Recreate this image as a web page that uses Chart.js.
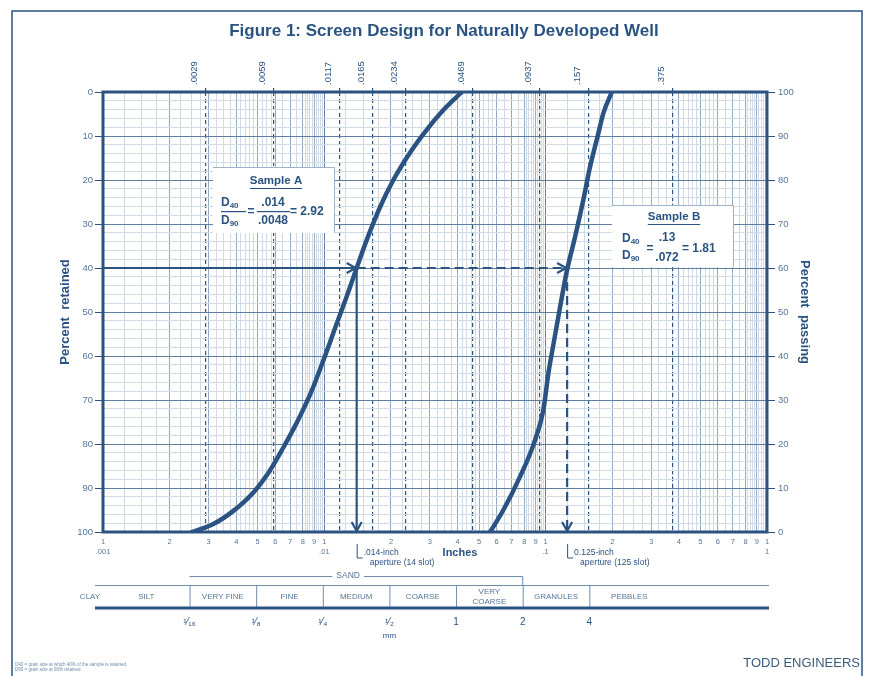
<!DOCTYPE html>
<html>
<head>
<meta charset="utf-8">
<title>Screen Design for Naturally Developed Well</title>
<script src="https://cdn.jsdelivr.net/npm/chart.js@4.4.1/dist/chart.umd.min.js"></script>
<style>
  html, body { margin: 0; padding: 0; background: #fff; }
  #wrap { width: 873px; height: 676px; position: relative; }
</style>
</head>
<body>
<div id="wrap"><canvas id="gradChart"></canvas></div>
<script>
// grain size (inches) against percent retained
var sizeA = [0.00252, 0.00315, 0.00388, 0.00478, 0.00568, 0.00653, 0.0075, 0.00862, 0.0099, 0.01138, 0.01262, 0.0140, 0.01555, 0.0178, 0.0205, 0.0243, 0.0290, 0.0345, 0.0418];
var retainedA = [100, 98.2, 95.2, 91.0, 86.0, 80.8, 75.2, 68.8, 61.0, 52.6, 46.5, 40, 33.6, 26.3, 20, 13.9, 8.6, 4.1, 0];
var sizeB = [0.0561, 0.0644, 0.0766, 0.0880, 0.0976, 0.1029, 0.1066, 0.1141, 0.1245, 0.1358, 0.1480, 0.1587, 0.1730, 0.1823, 0.1990];
var retainedB = [100, 95, 87.4, 80.2, 72.3, 63.9, 59.4, 51.1, 40.8, 32.9, 24.5, 17, 9.4, 4.8, 0];

// the D40 picks (inches) and the percent they are read at
var d40A = 0.014;
var d40B = 0.125;
var pickRetained = 40;

// sieve openings printed along the top (inches)
var topSizes = [0.0029, 0.0059, 0.0117, 0.0165, 0.0234, 0.0469, 0.0937, 0.157, 0.375];
var topLabels = ['.0029', '.0059', '.0117', '.0165', '.0234', '.0469', '.0937', '.157', '.375'];

// log grid paper: lines inside each decade, and the decade names
var gridMantissas = [1, 1.25, 1.5, 1.75, 2, 2.25, 2.5, 2.75, 3, 3.25, 3.5, 3.75, 4, 4.2, 4.4, 4.6, 4.8, 5, 5.25, 5.5, 5.75, 6, 6.5, 7, 7.5, 8, 8.2, 8.4, 8.6, 8.8, 9, 9.2, 9.4, 9.6, 9.8];
var decadeLabels = ['.001', '.01', '.1', '1'];

// percent ticks
var percentMajor = [0, 10, 20, 30, 40, 50, 60, 70, 80, 90, 100];
var percentMinorStep = 2;

// wentworth classes and their limits in mm
var classNames = ['CLAY', 'SILT', 'VERY FINE', 'FINE', 'MEDIUM', 'COARSE', 'VERY COARSE', 'GRANULES', 'PEBBLES'];
var classLimitsMm = [1/16, 1/8, 1/4, 1/2, 1, 2, 4];
var classLimitLabels = ['\u00b9\u2044\u2081\u2086', '\u00b9\u2044\u2088', '\u00b9\u2044\u2084', '\u00b9\u2044\u2082', '1', '2', '4'];

var main = '#2b5382';
var tickText = '#56769a';
var gridDecade = '#5f7fa2';
var gridMajor = '#93aac2';
var gridMinor = '#d0dbe6';
var fontFam = "'Liberation Sans', Arial, sans-serif";

// build the bottom axis ticks
var xTicks = [], xTickLabels = [], xTickKind = [];
for (var d = 0; d < 3; d++) {
  for (var j = 0; j < gridMantissas.length; j++) {
    var m = gridMantissas[j];
    xTicks.push(Number((m * Math.pow(10, d - 3)).toPrecision(6)));
    if (m === 1) { xTickLabels.push(['1', decadeLabels[d]]); xTickKind.push('decade'); }
    else if (m % 1 === 0) { xTickLabels.push(String(m)); xTickKind.push('major'); }
    else { xTickLabels.push(''); xTickKind.push('minor'); }
  }
}
xTicks.push(1); xTickLabels.push(['1', decadeLabels[3]]); xTickKind.push('decade');

var yTicks = [];
for (var p = 0; p <= 100; p += percentMinorStep) yTicks.push(p);

function pts(xs, ys) {
  return xs.map(function(x, i) { return {x: x, y: ys[i]}; });
}

function dLabel(ctx, x, y, sub) {
  ctx.font = 'bold 12px ' + fontFam;
  ctx.textAlign = 'left';
  ctx.textBaseline = 'middle';
  ctx.fillText('D', x, y);
  var w = ctx.measureText('D').width;
  ctx.font = 'bold 8px ' + fontFam;
  ctx.fillText(sub, x + w, y + 3);
}

function sampleBox(ctx, x, y, w, h) {
  ctx.fillStyle = '#fff';
  ctx.fillRect(x, y, w, h);
  ctx.strokeStyle = '#9fb3c8';
  ctx.lineWidth = 1;
  ctx.beginPath();
  ctx.moveTo(x, y + 0.5); ctx.lineTo(x + w + 0.5, y + 0.5); ctx.lineTo(x + w + 0.5, y + h);
  ctx.stroke();
}

function underlined(ctx, txt, cx, y) {
  ctx.font = 'bold 11.5px ' + fontFam;
  ctx.textAlign = 'center';
  ctx.textBaseline = 'middle';
  ctx.fillText(txt, cx, y);
  var w = ctx.measureText(txt).width;
  ctx.fillRect(cx - w / 2, y + 7, w, 1);
}

var paper = {
  id: 'paper',
  beforeDatasetsDraw: function(chart) {
    var ctx = chart.ctx, a = chart.chartArea;
    ctx.save();
    // sample A box
    sampleBox(ctx, 213, 167, 121, 66);
    ctx.fillStyle = main;
    underlined(ctx, 'Sample A', 276, 181);
    dLabel(ctx, 221, 203, '40');
    dLabel(ctx, 221, 221, '90');
    ctx.fillRect(221, 211, 25, 1.2);
    ctx.font = 'bold 12px ' + fontFam;
    ctx.textAlign = 'center';
    ctx.fillText('=', 251, 212);
    ctx.fillText('.014', 273, 203);
    ctx.fillText('.0048', 273, 221);
    ctx.fillRect(257, 211, 33, 1.2);
    ctx.textAlign = 'left';
    ctx.fillText('= 2.92', 290, 212);
    // sample B box
    sampleBox(ctx, 612, 205, 121, 62);
    ctx.fillStyle = main;
    underlined(ctx, 'Sample B', 674, 217);
    dLabel(ctx, 622, 239, '40');
    dLabel(ctx, 622, 256, '90');
    ctx.font = 'bold 12px ' + fontFam;
    ctx.textAlign = 'center';
    ctx.fillText('=', 650, 249);
    ctx.fillText('.13', 667, 238);
    ctx.fillText('.072', 667, 258);
    ctx.textAlign = 'left';
    ctx.fillText('= 1.81', 682, 249);
    // plot frame
    ctx.strokeStyle = main;
    ctx.lineWidth = 3;
    ctx.strokeRect(a.left, a.top, a.right - a.left, a.bottom - a.top);
    ctx.restore();
  },
  afterDatasetsDraw: function(chart) {
    var ctx = chart.ctx;
    chart.data.datasets.forEach(function(ds, i) {
      if (!ds.arrow) return;
      var el = chart.getDatasetMeta(i).data;
      var p0 = el[el.length - 2], p1 = el[el.length - 1];
      var ang = Math.atan2(p1.y - p0.y, p1.x - p0.x);
      ctx.save();
      ctx.translate(p1.x, p1.y);
      ctx.rotate(ang);
      ctx.strokeStyle = main;
      ctx.lineWidth = 2.2;
      ctx.lineJoin = 'miter';
      ctx.beginPath();
      ctx.moveTo(-10, -5); ctx.lineTo(-1, 0); ctx.lineTo(-10, 5);
      ctx.stroke();
      ctx.restore();
    });
  },
  afterDraw: function(chart) {
    var ctx = chart.ctx, a = chart.chartArea, x = chart.scales.x;
    ctx.save();
    // outer frame and title
    ctx.strokeStyle = main;
    ctx.lineWidth = 1.5;
    ctx.strokeRect(12, 11, 850, 700);
    ctx.fillStyle = main;
    ctx.font = 'bold 17px ' + fontFam;
    ctx.textAlign = 'center';
    ctx.textBaseline = 'middle';
    ctx.fillText('Figure 1: Screen Design for Naturally Developed Well', 444, 31);

    // aperture notes under the D40 drops
    [[d40A, '.014-inch', 'aperture (14 slot)'], [d40B, '0.125-inch', 'aperture (125 slot)']].forEach(function(n) {
      var px = x.getPixelForValue(n[0]);
      ctx.strokeStyle = main;
      ctx.lineWidth = 1;
      ctx.beginPath();
      ctx.moveTo(px + 0.5, a.bottom + 12); ctx.lineTo(px + 0.5, a.bottom + 26); ctx.lineTo(px + 6, a.bottom + 26);
      ctx.stroke();
      ctx.fillStyle = main;
      ctx.font = '8.5px ' + fontFam;
      ctx.textAlign = 'left';
      ctx.fillText(n[1], px + 7, a.bottom + 21);
      ctx.fillText(n[2], px + 13, a.bottom + 31);
    });
    ctx.font = 'bold 11px ' + fontFam;
    ctx.textAlign = 'center';
    ctx.fillText('Inches', 460, a.bottom + 21);

    // sand bracket
    var limPx = classLimitsMm.map(function(mm) { return x.getPixelForValue(mm / 25.4); });
    var yBr = a.bottom + 44, yTop = a.bottom + 53, yBot = a.bottom + 75;
    ctx.strokeStyle = '#6f8cab';
    ctx.lineWidth = 1;
    ctx.beginPath();
    ctx.moveTo(limPx[0], yBr + 0.5); ctx.lineTo(limPx[5], yBr + 0.5); ctx.lineTo(limPx[5], yTop);
    ctx.stroke();
    var mid = (limPx[0] + limPx[5]) / 2 - 8;
    ctx.font = '8.5px ' + fontFam;
    var sw = ctx.measureText('SAND').width;
    ctx.fillStyle = '#fff';
    ctx.fillRect(mid - sw / 2 - 4, yBr - 5, sw + 8, 10);
    ctx.fillStyle = tickText;
    ctx.fillText('SAND', mid, yBr);

    // size class table
    ctx.beginPath();
    ctx.moveTo(95, yTop + 0.5); ctx.lineTo(a.right + 2, yTop + 0.5);
    limPx.forEach(function(px) { ctx.moveTo(px + 0.5, yTop); ctx.lineTo(px + 0.5, yBot); });
    ctx.stroke();
    ctx.strokeStyle = main;
    ctx.lineWidth = 3;
    ctx.beginPath();
    ctx.moveTo(95, yBot + 1); ctx.lineTo(a.right + 2, yBot + 1);
    ctx.stroke();

    var centers = [a.left - 13, (a.left + limPx[0]) / 2];
    for (var k = 0; k < limPx.length - 1; k++) centers.push((limPx[k] + limPx[k + 1]) / 2);
    centers.push(limPx[6] + 40);
    ctx.fillStyle = tickText;
    ctx.font = '8px ' + fontFam;
    classNames.forEach(function(name, i) {
      var yc = (yTop + yBot) / 2 + 1;
      if (name.indexOf(' ') > 0 && name.length > 10) {
        var parts = name.split(' ');
        ctx.fillText(parts[0], centers[i], yc - 5);
        ctx.fillText(parts[1], centers[i], yc + 5);
      } else {
        ctx.fillText(name, centers[i], yc);
      }
    });
    ctx.font = '10px ' + fontFam;
    ctx.fillStyle = main;
    classLimitLabels.forEach(function(lbl, i) {
      ctx.fillText(lbl, limPx[i], yBot + 15);
    });
    ctx.font = '8px ' + fontFam;
    ctx.fillText('mm', limPx[3], yBot + 29);

    // footer
    ctx.font = '13px ' + fontFam;
    ctx.textAlign = 'right';
    ctx.fillStyle = '#3b5b7e';
    ctx.fillText('TODD ENGINEERS', 860, 663);
    ctx.font = '4.5px ' + fontFam;
    ctx.textAlign = 'left';
    ctx.fillStyle = '#6f8cab';
    ctx.fillText('D40 = grain size at which 40% of the sample is retained', 15, 665);
    ctx.fillText('D90 = grain size at 90% retained', 15, 670);
    ctx.restore();
  }
};

new Chart(document.getElementById('gradChart'), {
  type: 'scatter',
  data: {
    datasets: [
      {label: 'Sample A', data: pts(sizeA, retainedA), showLine: true, borderColor: main, borderWidth: 4.5, pointRadius: 0, cubicInterpolationMode: 'monotone', borderCapStyle: 'round', borderJoinStyle: 'round'},
      {label: 'Sample B', data: pts(sizeB, retainedB), showLine: true, borderColor: main, borderWidth: 4.5, pointRadius: 0, cubicInterpolationMode: 'monotone', borderCapStyle: 'round', borderJoinStyle: 'round'},
      {label: 'A D40', data: [{x: 0.001, y: pickRetained}, {x: d40A, y: pickRetained}], showLine: true, borderColor: main, borderWidth: 2.2, pointRadius: 0, arrow: true},
      {label: 'A drop', data: [{x: d40A, y: pickRetained}, {x: d40A, y: 100}], showLine: true, borderColor: main, borderWidth: 2.2, pointRadius: 0, arrow: true},
      {label: 'B D40', data: [{x: d40A, y: pickRetained}, {x: d40B, y: pickRetained}], showLine: true, borderColor: main, borderWidth: 2.2, borderDash: [9, 5], pointRadius: 0, arrow: true},
      {label: 'B drop', data: [{x: d40B, y: pickRetained}, {x: d40B, y: 100}], showLine: true, borderColor: main, borderWidth: 2.2, borderDash: [9, 5], pointRadius: 0, arrow: true}
    ]
  },
  options: {
    responsive: true,
    maintainAspectRatio: false,
    animation: false,
    layout: {padding: 0},
    plugins: {legend: {display: false}, tooltip: {enabled: false}, title: {display: false}},
    scales: {
      x: {
        type: 'logarithmic', position: 'bottom', min: 0.001, max: 1,
        afterBuildTicks: function(s) { s.ticks = xTicks.map(function(v) { return {value: v}; }); },
        afterFit: function(s) { s.height = 144; },
        border: {display: false},
        grid: {
          color: function(c) { var k = xTickKind[c.index]; return k === 'decade' ? gridDecade : (k === 'major' ? gridMajor : gridMinor); },
          lineWidth: 1, tickLength: 3, tickColor: 'transparent'
        },
        ticks: {
          autoSkip: false, maxRotation: 0, minRotation: 0, padding: 2,
          color: tickText, font: {family: fontFam, size: 7.5, lineHeight: 1.3},
          callback: function(v, i) { return xTickLabels[i]; }
        }
      },
      x2: {
        type: 'logarithmic', position: 'top', min: 0.001, max: 1,
        afterBuildTicks: function(s) { s.ticks = topSizes.map(function(v) { return {value: v}; }); },
        afterFit: function(s) { s.height = 92; },
        border: {display: false, dash: [4, 3]},
        grid: {color: main, lineWidth: 1.2, tickLength: 4, tickColor: main},
        ticks: {
          autoSkip: false, maxRotation: 90, minRotation: 90, padding: 3,
          color: main, font: {family: fontFam, size: 9.5},
          callback: function(v, i) { return topLabels[i]; }
        }
      },
      y: {
        position: 'left', min: 0, max: 100, reverse: true,
        afterBuildTicks: function(s) { s.ticks = yTicks.map(function(v) { return {value: v}; }); },
        afterFit: function(s) { s.width = 103; },
        border: {display: false},
        grid: {
          color: function(c) { return c.tick && c.tick.value % 10 === 0 ? gridDecade : gridMinor; },
          tickColor: function(c) { return c.tick && c.tick.value % 10 === 0 ? main : 'transparent'; },
          tickLength: 8, lineWidth: 1
        },
        ticks: {
          autoSkip: false, padding: 2, color: tickText, font: {family: fontFam, size: 9.5},
          callback: function(v) { return v % 10 === 0 ? String(v) : ''; }
        },
        title: {display: true, text: 'Percent  retained', color: main, font: {family: fontFam, size: 13, weight: 'bold'}, padding: {top: 58, bottom: 0}}
      },
      y2: {
        position: 'right', min: 0, max: 100,
        afterBuildTicks: function(s) { s.ticks = percentMajor.map(function(v) { return {value: v}; }); },
        afterFit: function(s) { s.width = 106; },
        border: {display: false},
        grid: {drawOnChartArea: false, tickLength: 8, tickColor: main},
        ticks: {autoSkip: false, padding: 3, color: tickText, font: {family: fontFam, size: 9.5}},
        title: {display: true, text: 'Percent  passing', color: main, font: {family: fontFam, size: 13, weight: 'bold'}, padding: {top: 61, bottom: 0}}
      }
    }
  },
  plugins: [paper]
});
</script>
</body>
</html>
